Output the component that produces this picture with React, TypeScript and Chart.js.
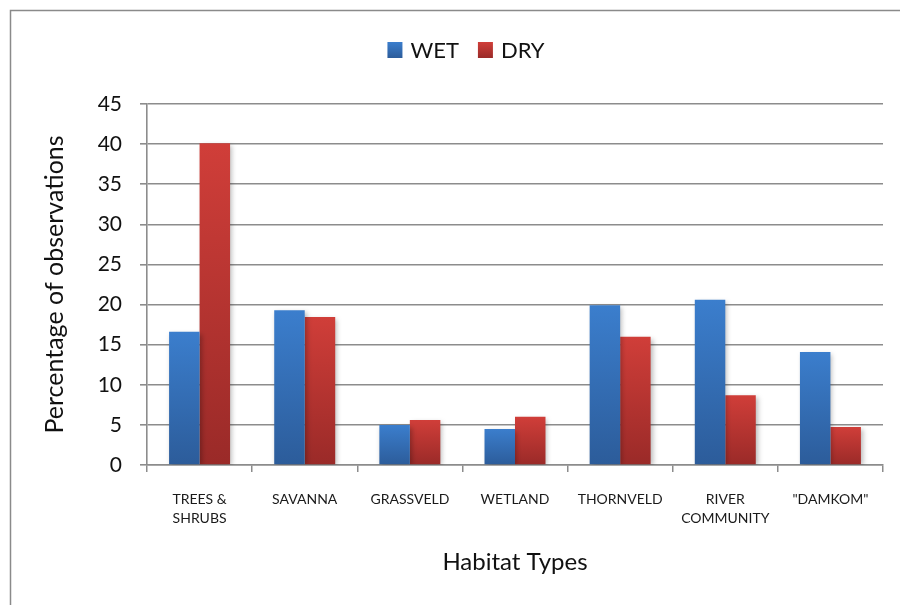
import React, { useEffect, useRef } from "react";
import { Chart, registerables } from "chart.js";

Chart.register(...registerables);

const categories: (string | string[])[] = [
  ["TREES &", "SHRUBS"],
  "SAVANNA",
  "GRASSVELD",
  "WETLAND",
  "THORNVELD",
  ["RIVER", "COMMUNITY"],
  '"DAMKOM"',
];
const wetValues = [16.6, 19.3, 5.0, 4.5, 19.9, 20.6, 14.1];
const dryValues = [40.1, 18.45, 5.6, 6.0, 16.0, 8.7, 4.75];
const seriesLabels = ["WET", "DRY"];
const yTitle = "Percentage of observations";
const xTitle = "Habitat Types";

const FONT = "Lato, 'Open Sans', sans-serif";
const WET_TOP = "#3B7ECD";
const WET_BOT = "#2C5C9A";
const DRY_TOP = "#D03E39";
const DRY_BOT = "#9A2A28";
const GRID = "#8c8c8c";

const grad = (top: string, bottom: string) => (ctx: any) => {
  const chart = ctx.chart;
  if (!chart.chartArea || ctx.type !== "data") return top;
  const ys = chart.scales.y;
  if (!ys) return top;
  const v = ctx.raw;
  const yTop = ys.getPixelForValue(v);
  const yBot = ys.getPixelForValue(0);
  if (!isFinite(yTop) || !isFinite(yBot) || yBot - yTop < 1) return top;
  const g = chart.ctx.createLinearGradient(0, yTop, 0, yBot);
  g.addColorStop(0, top);
  g.addColorStop(1, bottom);
  return g;
};

const framePlugin = {
  id: "frame",
  beforeDraw(chart: any) {
    const c = chart.ctx;
    c.save();
    c.fillStyle = "#ffffff";
    c.fillRect(0, 0, chart.width, chart.height);
    c.strokeStyle = "#8a8a8a";
    c.lineWidth = 1.5;
    c.beginPath();
    c.moveTo(10.5, chart.height);
    c.lineTo(10.5, 10.5);
    c.lineTo(chart.width, 10.5);
    c.stroke();
    c.restore();
  },
};

const shadowPlugin = {
  id: "barShadow",
  beforeDatasetsDraw(chart: any) {
    const c = chart.ctx;
    c.save();
    c.shadowColor = "rgba(0,0,0,0.28)";
    c.shadowBlur = 5;
    c.shadowOffsetX = 2;
    c.shadowOffsetY = 2;
  },
  afterDatasetsDraw(chart: any) {
    chart.ctx.restore();
  },
};

const legendPlugin = {
  id: "customLegend",
  afterDraw(chart: any) {
    const c = chart.ctx;
    c.save();
    c.font = `22px ${FONT}`;
    c.textBaseline = "middle";
    c.fillStyle = "#111";
    const box = 15;
    const gapText = 8;
    const gapItem = 19;
    const colors = [
      [WET_TOP, WET_BOT],
      [DRY_TOP, DRY_BOT],
    ];
    const widths = seriesLabels.map((l) => c.measureText(l).width);
    let total = 0;
    widths.forEach((w, i) => {
      total += box + gapText + w + (i < widths.length - 1 ? gapItem : 0);
    });
    let x = 466 - total / 2;
    const cy = 50;
    seriesLabels.forEach((l, i) => {
      const g = c.createLinearGradient(0, cy - 8, 0, cy + 8);
      g.addColorStop(0, colors[i][0]);
      g.addColorStop(1, colors[i][1]);
      c.fillStyle = g;
      c.fillRect(x, cy - 8, box, 16);
      x += box + gapText;
      c.fillStyle = "#111";
      c.fillText(l, x, cy + 1);
      x += widths[i] + gapItem;
    });
    c.restore();
  },
};

export default function App() {
  const ref = useRef<HTMLCanvasElement>(null);

  useEffect(() => {
    if (!ref.current) return;
    const chart = new Chart(ref.current, {
      type: "bar",
      data: {
        labels: categories,
        datasets: [
          {
            label: seriesLabels[0],
            data: wetValues,
            backgroundColor: grad(WET_TOP, WET_BOT),
            borderWidth: 0,
          },
          {
            label: seriesLabels[1],
            data: dryValues,
            backgroundColor: grad(DRY_TOP, DRY_BOT),
            borderWidth: 0,
          },
        ],
      },
      options: {
        responsive: false,
        animation: false,
        layout: { padding: { left: 20, right: 17, top: 104, bottom: 20 } },
        datasets: {
          bar: { categoryPercentage: 0.58, barPercentage: 1.0 },
        },
        plugins: {
          legend: { display: false },
          tooltip: { enabled: false },
        },
        scales: {
          x: {
            offset: true,
            grid: {
              display: true,
              offset: true,
              drawOnChartArea: false,
              drawTicks: true,
              tickLength: 7,
              color: GRID,
              lineWidth: 1.5,
            },
            border: { display: true, color: GRID, width: 1.6 },
            ticks: {
              autoSkip: false,
              maxRotation: 0,
              minRotation: 0,
              padding: 18,
              color: "#1a1a1a",
              font: { family: FONT, size: 14, lineHeight: 1.36 },
            },
            title: {
              display: true,
              text: xTitle,
              color: "#111",
              font: { family: FONT, size: 24, lineHeight: 1.2 },
              padding: { top: 0, bottom: 8 },
            },
            afterFit: (s: any) => {
              s.height = 120;
            },
          },
          y: {
            min: 0,
            max: 45,
            ticks: {
              stepSize: 5,
              padding: 18,
              color: "#111",
              font: { family: FONT, size: 21 },
            },
            grid: {
              color: GRID,
              lineWidth: 1.6,
              drawTicks: true,
              tickLength: 7,
            },
            border: { display: true, color: GRID, width: 1.6 },
            title: {
              display: true,
              text: yTitle,
              color: "#111",
              font: { family: FONT, size: 25, lineHeight: 1.2 },
              padding: { top: 20, bottom: 0 },
            },
            afterFit: (s: any) => {
              s.width = 127;
            },
          },
        },
      },
      plugins: [framePlugin, shadowPlugin, legendPlugin],
    });
    return () => chart.destroy();
  }, []);

  return (
    <div style={{ position: "absolute", left: 0, top: 0, width: 900, height: 605 }}>
      <canvas ref={ref} width={900} height={605} />
    </div>
  );
}
